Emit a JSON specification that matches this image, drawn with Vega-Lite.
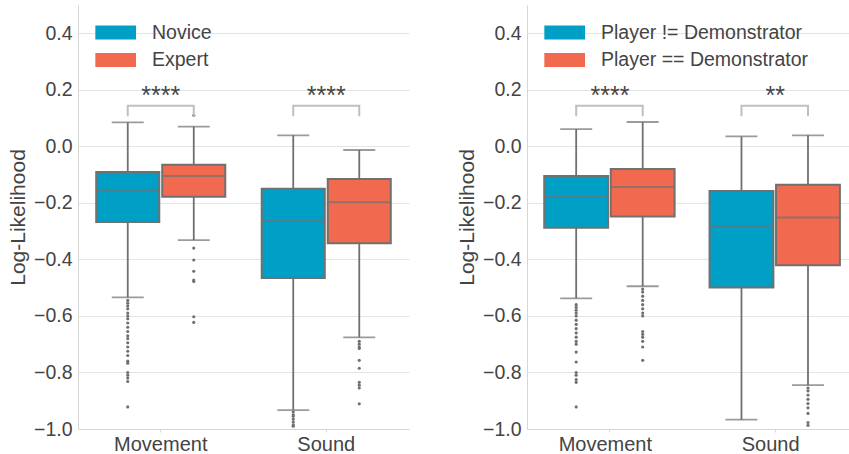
{
  "$schema": "https://vega.github.io/schema/vega-lite/v6.json",
  "padding": {"left": 7, "top": 5, "right": 0, "bottom": 0},
  "config": {
    "font": "Liberation Sans",
    "view": {"stroke": null},
    "concat": {"spacing": 47},
    "axis": {"labelColor": "#444444", "titleColor": "#444444", "labelFont": "Liberation Sans", "titleFont": "Liberation Sans", "titleFontWeight": "normal", "domainColor": "#d6d6d6", "gridColor": "#e4e4e4", "tickColor": "#d6d6d6"},
    "legend": {"orient": "top-left", "offset": 17, "padding": 0, "labelFontSize": 19.5, "labelColor": "#444444", "labelFont": "Liberation Sans", "labelLimit": 400, "symbolType": "M-1,-0.69H3V0.69H-1Z", "symbolSize": 414, "symbolStrokeWidth": 0, "symbolOpacity": 1, "labelOffset": 36, "rowPadding": 7.4}
  },
  "datasets": {
    "boxes": [
      {"panel": "A", "category": "Movement", "group": "Novice", "lo": -0.534, "q1": -0.268, "med": -0.158, "q3": -0.091, "hi": 0.085},
      {"panel": "A", "category": "Movement", "group": "Expert", "lo": -0.332, "q1": -0.178, "med": -0.105, "q3": -0.065, "hi": 0.070},
      {"panel": "A", "category": "Sound", "group": "Novice", "lo": -0.933, "q1": -0.466, "med": -0.264, "q3": -0.150, "hi": 0.039},
      {"panel": "A", "category": "Sound", "group": "Expert", "lo": -0.676, "q1": -0.343, "med": -0.198, "q3": -0.116, "hi": -0.013},
      {"panel": "B", "category": "Movement", "group": "Player != Demonstrator", "lo": -0.538, "q1": -0.288, "med": -0.179, "q3": -0.105, "hi": 0.061},
      {"panel": "B", "category": "Movement", "group": "Player == Demonstrator", "lo": -0.495, "q1": -0.248, "med": -0.144, "q3": -0.080, "hi": 0.086},
      {"panel": "B", "category": "Sound", "group": "Player != Demonstrator", "lo": -0.967, "q1": -0.499, "med": -0.283, "q3": -0.158, "hi": 0.035},
      {"panel": "B", "category": "Sound", "group": "Player == Demonstrator", "lo": -0.845, "q1": -0.421, "med": -0.252, "q3": -0.136, "hi": 0.039}
    ],
    "outliers": [
      {"panel": "A", "category": "Movement", "group": "Novice", "value": -0.545},
      {"panel": "A", "category": "Movement", "group": "Novice", "value": -0.555},
      {"panel": "A", "category": "Movement", "group": "Novice", "value": -0.565},
      {"panel": "A", "category": "Movement", "group": "Novice", "value": -0.575},
      {"panel": "A", "category": "Movement", "group": "Novice", "value": -0.59},
      {"panel": "A", "category": "Movement", "group": "Novice", "value": -0.60},
      {"panel": "A", "category": "Movement", "group": "Novice", "value": -0.61},
      {"panel": "A", "category": "Movement", "group": "Novice", "value": -0.625},
      {"panel": "A", "category": "Movement", "group": "Novice", "value": -0.64},
      {"panel": "A", "category": "Movement", "group": "Novice", "value": -0.655},
      {"panel": "A", "category": "Movement", "group": "Novice", "value": -0.67},
      {"panel": "A", "category": "Movement", "group": "Novice", "value": -0.68},
      {"panel": "A", "category": "Movement", "group": "Novice", "value": -0.695},
      {"panel": "A", "category": "Movement", "group": "Novice", "value": -0.71},
      {"panel": "A", "category": "Movement", "group": "Novice", "value": -0.725},
      {"panel": "A", "category": "Movement", "group": "Novice", "value": -0.74},
      {"panel": "A", "category": "Movement", "group": "Novice", "value": -0.76},
      {"panel": "A", "category": "Movement", "group": "Novice", "value": -0.767},
      {"panel": "A", "category": "Movement", "group": "Novice", "value": -0.80},
      {"panel": "A", "category": "Movement", "group": "Novice", "value": -0.81},
      {"panel": "A", "category": "Movement", "group": "Novice", "value": -0.82},
      {"panel": "A", "category": "Movement", "group": "Novice", "value": -0.832},
      {"panel": "A", "category": "Movement", "group": "Novice", "value": -0.922},
      {"panel": "A", "category": "Movement", "group": "Expert", "value": 0.11},
      {"panel": "A", "category": "Movement", "group": "Expert", "value": -0.36},
      {"panel": "A", "category": "Movement", "group": "Expert", "value": -0.402},
      {"panel": "A", "category": "Movement", "group": "Expert", "value": -0.442},
      {"panel": "A", "category": "Movement", "group": "Expert", "value": -0.473},
      {"panel": "A", "category": "Movement", "group": "Expert", "value": -0.478},
      {"panel": "A", "category": "Movement", "group": "Expert", "value": -0.603},
      {"panel": "A", "category": "Movement", "group": "Expert", "value": -0.623},
      {"panel": "A", "category": "Sound", "group": "Novice", "value": -0.94},
      {"panel": "A", "category": "Sound", "group": "Novice", "value": -0.95},
      {"panel": "A", "category": "Sound", "group": "Novice", "value": -0.955},
      {"panel": "A", "category": "Sound", "group": "Novice", "value": -0.965},
      {"panel": "A", "category": "Sound", "group": "Novice", "value": -0.975},
      {"panel": "A", "category": "Sound", "group": "Novice", "value": -0.985},
      {"panel": "A", "category": "Sound", "group": "Novice", "value": -0.99},
      {"panel": "A", "category": "Sound", "group": "Expert", "value": -0.69},
      {"panel": "A", "category": "Sound", "group": "Expert", "value": -0.70},
      {"panel": "A", "category": "Sound", "group": "Expert", "value": -0.71},
      {"panel": "A", "category": "Sound", "group": "Expert", "value": -0.715},
      {"panel": "A", "category": "Sound", "group": "Expert", "value": -0.757},
      {"panel": "A", "category": "Sound", "group": "Expert", "value": -0.785},
      {"panel": "A", "category": "Sound", "group": "Expert", "value": -0.835},
      {"panel": "A", "category": "Sound", "group": "Expert", "value": -0.845},
      {"panel": "A", "category": "Sound", "group": "Expert", "value": -0.855},
      {"panel": "A", "category": "Sound", "group": "Expert", "value": -0.911},
      {"panel": "B", "category": "Movement", "group": "Player != Demonstrator", "value": -0.56},
      {"panel": "B", "category": "Movement", "group": "Player != Demonstrator", "value": -0.57},
      {"panel": "B", "category": "Movement", "group": "Player != Demonstrator", "value": -0.58},
      {"panel": "B", "category": "Movement", "group": "Player != Demonstrator", "value": -0.59},
      {"panel": "B", "category": "Movement", "group": "Player != Demonstrator", "value": -0.60},
      {"panel": "B", "category": "Movement", "group": "Player != Demonstrator", "value": -0.615},
      {"panel": "B", "category": "Movement", "group": "Player != Demonstrator", "value": -0.63},
      {"panel": "B", "category": "Movement", "group": "Player != Demonstrator", "value": -0.645},
      {"panel": "B", "category": "Movement", "group": "Player != Demonstrator", "value": -0.66},
      {"panel": "B", "category": "Movement", "group": "Player != Demonstrator", "value": -0.675},
      {"panel": "B", "category": "Movement", "group": "Player != Demonstrator", "value": -0.69},
      {"panel": "B", "category": "Movement", "group": "Player != Demonstrator", "value": -0.70},
      {"panel": "B", "category": "Movement", "group": "Player != Demonstrator", "value": -0.728},
      {"panel": "B", "category": "Movement", "group": "Player != Demonstrator", "value": -0.763},
      {"panel": "B", "category": "Movement", "group": "Player != Demonstrator", "value": -0.80},
      {"panel": "B", "category": "Movement", "group": "Player != Demonstrator", "value": -0.81},
      {"panel": "B", "category": "Movement", "group": "Player != Demonstrator", "value": -0.825},
      {"panel": "B", "category": "Movement", "group": "Player != Demonstrator", "value": -0.835},
      {"panel": "B", "category": "Movement", "group": "Player != Demonstrator", "value": -0.922},
      {"panel": "B", "category": "Movement", "group": "Player == Demonstrator", "value": -0.505},
      {"panel": "B", "category": "Movement", "group": "Player == Demonstrator", "value": -0.515},
      {"panel": "B", "category": "Movement", "group": "Player == Demonstrator", "value": -0.53},
      {"panel": "B", "category": "Movement", "group": "Player == Demonstrator", "value": -0.545},
      {"panel": "B", "category": "Movement", "group": "Player == Demonstrator", "value": -0.56},
      {"panel": "B", "category": "Movement", "group": "Player == Demonstrator", "value": -0.575},
      {"panel": "B", "category": "Movement", "group": "Player == Demonstrator", "value": -0.59},
      {"panel": "B", "category": "Movement", "group": "Player == Demonstrator", "value": -0.60},
      {"panel": "B", "category": "Movement", "group": "Player == Demonstrator", "value": -0.655},
      {"panel": "B", "category": "Movement", "group": "Player == Demonstrator", "value": -0.665},
      {"panel": "B", "category": "Movement", "group": "Player == Demonstrator", "value": -0.675},
      {"panel": "B", "category": "Movement", "group": "Player == Demonstrator", "value": -0.69},
      {"panel": "B", "category": "Movement", "group": "Player == Demonstrator", "value": -0.71},
      {"panel": "B", "category": "Movement", "group": "Player == Demonstrator", "value": -0.757},
      {"panel": "B", "category": "Sound", "group": "Player == Demonstrator", "value": -0.855},
      {"panel": "B", "category": "Sound", "group": "Player == Demonstrator", "value": -0.865},
      {"panel": "B", "category": "Sound", "group": "Player == Demonstrator", "value": -0.88},
      {"panel": "B", "category": "Sound", "group": "Player == Demonstrator", "value": -0.895},
      {"panel": "B", "category": "Sound", "group": "Player == Demonstrator", "value": -0.91},
      {"panel": "B", "category": "Sound", "group": "Player == Demonstrator", "value": -0.925},
      {"panel": "B", "category": "Sound", "group": "Player == Demonstrator", "value": -0.945},
      {"panel": "B", "category": "Sound", "group": "Player == Demonstrator", "value": -0.977},
      {"panel": "B", "category": "Sound", "group": "Player == Demonstrator", "value": -0.987}
    ],
    "brackets": [
      {"panel": "A", "category": "Movement", "group": "Novice", "ord": 1, "y": 0.106},
      {"panel": "A", "category": "Movement", "group": "Novice", "ord": 2, "y": 0.144},
      {"panel": "A", "category": "Movement", "group": "Expert", "ord": 3, "y": 0.144},
      {"panel": "A", "category": "Movement", "group": "Expert", "ord": 4, "y": 0.106},
      {"panel": "A", "category": "Sound", "group": "Novice", "ord": 1, "y": 0.106},
      {"panel": "A", "category": "Sound", "group": "Novice", "ord": 2, "y": 0.144},
      {"panel": "A", "category": "Sound", "group": "Expert", "ord": 3, "y": 0.144},
      {"panel": "A", "category": "Sound", "group": "Expert", "ord": 4, "y": 0.106},
      {"panel": "B", "category": "Movement", "group": "Player != Demonstrator", "ord": 1, "y": 0.106},
      {"panel": "B", "category": "Movement", "group": "Player != Demonstrator", "ord": 2, "y": 0.144},
      {"panel": "B", "category": "Movement", "group": "Player == Demonstrator", "ord": 3, "y": 0.144},
      {"panel": "B", "category": "Movement", "group": "Player == Demonstrator", "ord": 4, "y": 0.106},
      {"panel": "B", "category": "Sound", "group": "Player != Demonstrator", "ord": 1, "y": 0.106},
      {"panel": "B", "category": "Sound", "group": "Player != Demonstrator", "ord": 2, "y": 0.144},
      {"panel": "B", "category": "Sound", "group": "Player == Demonstrator", "ord": 3, "y": 0.144},
      {"panel": "B", "category": "Sound", "group": "Player == Demonstrator", "ord": 4, "y": 0.106}
    ],
    "stars": [
      {"panel": "A", "category": "Movement", "label": "****", "y": 0.15},
      {"panel": "A", "category": "Sound", "label": "****", "y": 0.15},
      {"panel": "B", "category": "Movement", "label": "****", "y": 0.15},
      {"panel": "B", "category": "Sound", "label": "**", "y": 0.15}
    ]
  },
  "hconcat": [
    {
      "width": 331,
      "height": 424,
      "layer": [
        {
          "data": {"name": "boxes"},
          "transform": [{"filter": "datum.panel === 'A'"}],
          "mark": {"type": "rule", "color": "#707070", "strokeWidth": 1.8},
          "encoding": {
            "x": {"field": "category", "type": "nominal", "scale": {"domain": ["Movement", "Sound"], "paddingInner": 0, "paddingOuter": 0}, "axis": {"title": null, "labelAngle": 0, "labelFontSize": 20, "labelPadding": 2, "tickSize": 3, "grid": false}},
            "xOffset": {"field": "group", "type": "nominal", "scale": {"domain": ["Novice", "Expert"], "paddingInner": 0.045, "paddingOuter": 0.276}},
            "y": {"field": "lo", "type": "quantitative", "scale": {"domain": [-1, 0.5], "nice": false, "zero": false}, "axis": {"values": [-1, -0.8, -0.6, -0.4, -0.2, 0, 0.2, 0.4], "format": ".1f", "ticks": false, "labelPadding": 6, "labelFontSize": 19.5, "title": "Log-Likelihood", "titleFontSize": 21, "titlePadding": 5, "grid": true}},
            "y2": {"field": "hi"}
          }
        },
        {
          "data": {"name": "boxes"},
          "transform": [{"filter": "datum.panel === 'A'"}],
          "mark": {"type": "tick", "color": "#707070", "size": 32, "thickness": 1.8},
          "encoding": {"x": {"field": "category", "type": "nominal"}, "xOffset": {"field": "group", "type": "nominal"}, "y": {"field": "lo", "type": "quantitative"}}
        },
        {
          "data": {"name": "boxes"},
          "transform": [{"filter": "datum.panel === 'A'"}],
          "mark": {"type": "tick", "color": "#707070", "size": 32, "thickness": 1.8},
          "encoding": {"x": {"field": "category", "type": "nominal"}, "xOffset": {"field": "group", "type": "nominal"}, "y": {"field": "hi", "type": "quantitative"}}
        },
        {
          "data": {"name": "boxes"},
          "transform": [{"filter": "datum.panel === 'A'"}],
          "mark": {"type": "bar", "stroke": "#707070", "strokeWidth": 2},
          "encoding": {
            "x": {"field": "category", "type": "nominal"},
            "xOffset": {"field": "group", "type": "nominal"},
            "y": {"field": "q1", "type": "quantitative"},
            "y2": {"field": "q3"},
            "color": {"field": "group", "type": "nominal", "scale": {"domain": ["Novice", "Expert"], "range": ["#00a0c6", "#f16a50"]}, "legend": {"title": null}}
          }
        },
        {
          "data": {"name": "boxes"},
          "transform": [{"filter": "datum.panel === 'A'"}],
          "mark": {"type": "tick", "color": "#707070", "size": 62, "thickness": 2},
          "encoding": {"x": {"field": "category", "type": "nominal"}, "xOffset": {"field": "group", "type": "nominal"}, "y": {"field": "med", "type": "quantitative"}}
        },
        {
          "data": {"name": "outliers"},
          "transform": [{"filter": "datum.panel === 'A'"}],
          "mark": {"type": "point", "filled": true, "color": "#707070", "opacity": 1, "size": 10},
          "encoding": {"x": {"field": "category", "type": "nominal"}, "xOffset": {"field": "group", "type": "nominal"}, "y": {"field": "value", "type": "quantitative"}}
        },
        {
          "data": {"name": "brackets"},
          "transform": [{"filter": "datum.panel === 'A'"}],
          "mark": {"type": "line", "color": "#bfbfbf", "strokeWidth": 2},
          "encoding": {"x": {"field": "category", "type": "nominal"}, "xOffset": {"field": "group", "type": "nominal"}, "y": {"field": "y", "type": "quantitative"}, "detail": {"field": "category"}, "order": {"field": "ord", "type": "quantitative"}}
        },
        {
          "data": {"name": "stars"},
          "transform": [{"filter": "datum.panel === 'A'"}],
          "mark": {"type": "text", "fontSize": 25, "color": "#444444", "baseline": "alphabetic"},
          "encoding": {"x": {"field": "category", "type": "nominal"}, "y": {"field": "y", "type": "quantitative"}, "text": {"field": "label"}}
        }
      ]
    },
    {
      "width": 322,
      "height": 424,
      "layer": [
        {
          "data": {"name": "boxes"},
          "transform": [{"filter": "datum.panel === 'B'"}],
          "mark": {"type": "rule", "color": "#707070", "strokeWidth": 1.8},
          "encoding": {
            "x": {"field": "category", "type": "nominal", "scale": {"domain": ["Movement", "Sound"], "paddingInner": 0.052, "paddingOuter": 0}, "axis": {"title": null, "labelAngle": 0, "labelFontSize": 20, "labelPadding": 2, "tickSize": 3, "grid": false, "bandPosition": 0.529}},
            "xOffset": {"field": "group", "type": "nominal", "scale": {"domain": ["Player != Demonstrator", "Player == Demonstrator"], "paddingInner": 0.04, "paddingOuter": 0.198, "align": 0.655}},
            "y": {"field": "lo", "type": "quantitative", "scale": {"domain": [-1, 0.5], "nice": false, "zero": false}, "axis": {"values": [-1, -0.8, -0.6, -0.4, -0.2, 0, 0.2, 0.4], "format": ".1f", "ticks": false, "labelPadding": 6, "labelFontSize": 19.5, "title": "Log-Likelihood", "titleFontSize": 21, "titlePadding": 5, "grid": true}},
            "y2": {"field": "hi"}
          }
        },
        {
          "data": {"name": "boxes"},
          "transform": [{"filter": "datum.panel === 'B'"}],
          "mark": {"type": "tick", "color": "#707070", "size": 32, "thickness": 1.8},
          "encoding": {"x": {"field": "category", "type": "nominal"}, "xOffset": {"field": "group", "type": "nominal"}, "y": {"field": "lo", "type": "quantitative"}}
        },
        {
          "data": {"name": "boxes"},
          "transform": [{"filter": "datum.panel === 'B'"}],
          "mark": {"type": "tick", "color": "#707070", "size": 32, "thickness": 1.8},
          "encoding": {"x": {"field": "category", "type": "nominal"}, "xOffset": {"field": "group", "type": "nominal"}, "y": {"field": "hi", "type": "quantitative"}}
        },
        {
          "data": {"name": "boxes"},
          "transform": [{"filter": "datum.panel === 'B'"}],
          "mark": {"type": "bar", "stroke": "#707070", "strokeWidth": 2},
          "encoding": {
            "x": {"field": "category", "type": "nominal"},
            "xOffset": {"field": "group", "type": "nominal"},
            "y": {"field": "q1", "type": "quantitative"},
            "y2": {"field": "q3"},
            "color": {"field": "group", "type": "nominal", "scale": {"domain": ["Player != Demonstrator", "Player == Demonstrator"], "range": ["#00a0c6", "#f16a50"]}, "legend": {"title": null}}
          }
        },
        {
          "data": {"name": "boxes"},
          "transform": [{"filter": "datum.panel === 'B'"}],
          "mark": {"type": "tick", "color": "#707070", "size": 63, "thickness": 2},
          "encoding": {"x": {"field": "category", "type": "nominal"}, "xOffset": {"field": "group", "type": "nominal"}, "y": {"field": "med", "type": "quantitative"}}
        },
        {
          "data": {"name": "outliers"},
          "transform": [{"filter": "datum.panel === 'B'"}],
          "mark": {"type": "point", "filled": true, "color": "#707070", "opacity": 1, "size": 10},
          "encoding": {"x": {"field": "category", "type": "nominal"}, "xOffset": {"field": "group", "type": "nominal"}, "y": {"field": "value", "type": "quantitative"}}
        },
        {
          "data": {"name": "brackets"},
          "transform": [{"filter": "datum.panel === 'B'"}],
          "mark": {"type": "line", "color": "#bfbfbf", "strokeWidth": 2},
          "encoding": {"x": {"field": "category", "type": "nominal"}, "xOffset": {"field": "group", "type": "nominal"}, "y": {"field": "y", "type": "quantitative"}, "detail": {"field": "category"}, "order": {"field": "ord", "type": "quantitative"}}
        },
        {
          "data": {"name": "stars"},
          "transform": [{"filter": "datum.panel === 'B'"}],
          "mark": {"type": "text", "fontSize": 25, "color": "#444444", "baseline": "alphabetic"},
          "encoding": {"x": {"field": "category", "type": "nominal", "bandPosition": 0.529}, "y": {"field": "y", "type": "quantitative"}, "text": {"field": "label"}}
        }
      ]
    }
  ],
  "resolve": {"scale": {"x": "independent", "xOffset": "independent", "y": "independent", "color": "independent"}, "legend": {"color": "independent"}}
}
